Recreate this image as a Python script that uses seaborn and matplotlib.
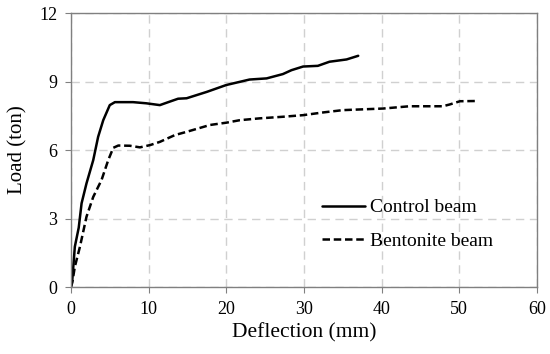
import numpy as np
import pandas as pd
import matplotlib
matplotlib.use("Agg")
import matplotlib.pyplot as plt
import seaborn as sns

# --------------------------------------------------------------------------------
# data
control_defl = [0.0, 0.17, 0.5, 1.0, 1.37, 2.0, 2.87, 3.5, 4.16, 5.0, 5.66, 8.0, 9.7,
                11.45, 12.7, 13.8, 14.9, 17.5, 20.0, 23.0, 25.2, 27.3, 28.4, 29.9,
                31.8, 33.3, 35.5, 37.0]
control_load = [0.0, 0.3, 1.77, 2.6, 3.67, 4.54, 5.56, 6.58, 7.31, 7.97, 8.1, 8.1, 8.05,
                7.97, 8.12, 8.25, 8.27, 8.55, 8.85, 9.09, 9.14, 9.33, 9.5, 9.66,
                9.69, 9.87, 9.97, 10.13]
bent_defl = [0.0, 0.17, 0.5, 1.16, 2.0, 2.87, 3.94, 4.8, 5.45, 6.1, 7.6, 8.88, 10.2,
             11.45, 13.4, 14.9, 17.9, 20.0, 21.75, 24.3, 27.3, 29.9, 32.5, 35.0,
             40.2, 43.6, 47.9, 48.8, 50.1, 52.2]
bent_load = [0.0, 0.2, 0.89, 1.77, 3.08, 3.95, 4.69, 5.56, 6.1, 6.2, 6.19, 6.12, 6.22,
             6.36, 6.66, 6.8, 7.1, 7.2, 7.31, 7.39, 7.46, 7.53, 7.65, 7.75,
             7.82, 7.92, 7.92, 8.0, 8.14, 8.15]
x_ticks = [0, 10, 20, 30, 40, 50, 60]
y_ticks = [0, 3, 6, 9, 12]
# --------------------------------------------------------------------------------

df = pd.concat([
    pd.DataFrame({"Deflection": control_defl, "Load": control_load, "Beam": "Control beam"}),
    pd.DataFrame({"Deflection": bent_defl, "Load": bent_load, "Beam": "Bentonite beam"}),
])

sns.set_style("white")
plt.rcParams["font.family"] = ["Liberation Serif", "DejaVu Serif"]
plt.rcParams["text.color"] = "black"
plt.rcParams["axes.labelcolor"] = "black"

fig = plt.figure(figsize=(5.5, 3.54), dpi=100)
ax = fig.add_axes([0.129, 0.189, 0.847, 0.774])

sns.lineplot(data=df, x="Deflection", y="Load", hue="Beam", style="Beam",
             palette=["black", "black"], dashes=[(None, None), (3, 1.5)],
             sort=False, estimator=None, linewidth=1.8, ax=ax)

ax.set_xlim(0, 60)
ax.set_ylim(0, 12)
ax.set_xticks(x_ticks)
ax.set_yticks(y_ticks)
ax.grid(True, color="#d0d0d0", linestyle=(0, (6, 4)), linewidth=1.0)
for s in ax.spines.values():
    s.set_color("#808080")
    s.set_linewidth(1.0)
ax.tick_params(axis="both", direction="out", length=4, color="#808080",
               labelcolor="black", labelsize=13, pad=6, bottom=True, left=True)
ax.set_xlabel("Deflection (mm)", fontsize=15.5, labelpad=4)
ax.set_ylabel("Load (ton)", fontsize=15, labelpad=8)

leg = ax.legend(frameon=False, fontsize=14, loc="upper left",
                bbox_to_anchor=(0.539, 0.322), borderpad=0, borderaxespad=0,
                handlelength=2.2, handletextpad=0.25, labelspacing=0.8)

fig.savefig("out.png", dpi=100)
